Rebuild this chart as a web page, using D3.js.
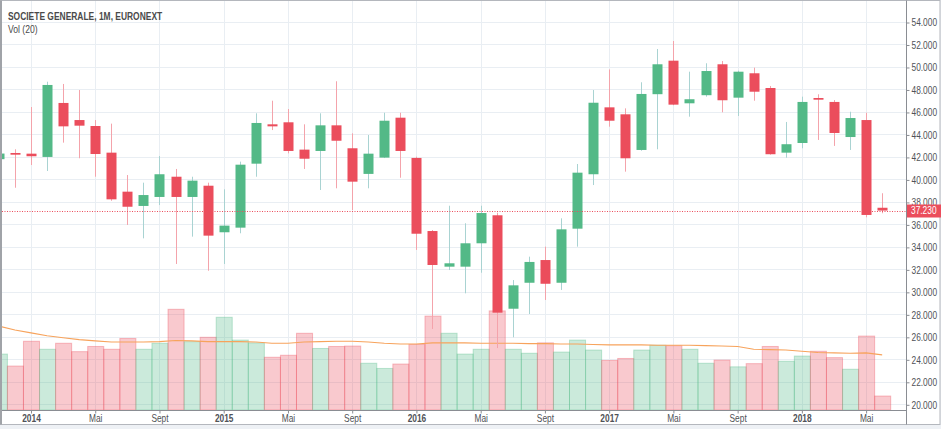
<!DOCTYPE html>
<html><head><meta charset="utf-8">
<script src="https://cdn.jsdelivr.net/npm/d3@7"></script>
<style>
body{margin:0;background:#fff;}
svg{display:block;}
text{font-family:"Liberation Sans",Arial,sans-serif;}
</style></head><body>
<svg id="c" width="941" height="429"></svg>
<script>
const months = ["2013-11","2013-12",
  "2014-01","2014-02","2014-03","2014-04","2014-05","2014-06","2014-07","2014-08","2014-09","2014-10","2014-11","2014-12",
  "2015-01","2015-02","2015-03","2015-04","2015-05","2015-06","2015-07","2015-08","2015-09","2015-10","2015-11","2015-12",
  "2016-01","2016-02","2016-03","2016-04","2016-05","2016-06","2016-07","2016-08","2016-09","2016-10","2016-11","2016-12",
  "2017-01","2017-02","2017-03","2017-04","2017-05","2017-06","2017-07","2017-08","2017-09","2017-10","2017-11","2017-12",
  "2018-01","2018-02","2018-03","2018-04","2018-05","2018-06"];
const open  = [41.80,42.35, 42.29,42.00,46.80,45.28,44.75,42.38,38.91,37.64,38.44,40.24,38.44,39.44,
  35.30,35.71,41.40,44.90,45.08,42.65,42.53,44.81,42.77,40.49,41.94,45.49,
  41.91,35.41,32.24,32.24,34.32,36.81,28.50,30.81,32.83,30.81,35.62,40.46,
  46.41,45.79,42.62,47.58,50.56,46.77,47.49,50.24,47.27,49.44,48.13,42.38,
  43.24,47.24,46.89,43.77,45.28,37.48];
const high  = [42.60,42.68, 46.44,48.69,48.49,47.95,45.28,44.96,40.39,39.71,42.08,40.93,40.24,39.71,
  39.12,41.58,45.88,47.00,46.26,44.90,45.88,48.73,44.10,43.95,45.93,45.93,
  42.02,35.50,37.66,36.10,37.66,37.04,31.05,33.13,34.02,36.54,41.37,47.95,
  49.78,46.32,48.64,51.60,52.31,49.58,50.33,50.53,49.67,49.94,48.31,45.11,
  47.36,47.57,47.06,46.02,45.93,38.77];
const low   = [40.80,39.26, 41.28,40.75,43.27,41.88,40.24,38.10,35.95,34.76,37.72,32.48,34.91,31.88,
  32.48,35.21,40.24,44.39,42.32,40.93,39.06,39.21,37.28,39.21,41.90,40.15,
  33.73,26.70,31.94,29.87,31.70,25.00,25.96,28.03,29.28,30.17,34.02,39.50,
  44.69,40.69,42.55,42.68,46.60,45.58,47.36,45.97,45.64,47.00,42.20,41.93,
  42.77,43.51,42.98,42.62,36.63,36.99];
const close = [42.30,42.20, 42.06,48.40,44.72,44.78,42.26,38.23,37.57,38.61,40.46,38.44,39.89,35.00,
  35.89,41.31,45.02,44.72,42.53,41.84,44.81,43.44,39.80,42.29,45.22,42.53,
  35.17,32.39,32.54,34.32,37.01,28.15,30.58,32.66,30.72,35.56,40.60,46.82,
  45.22,41.88,47.60,50.24,46.65,47.13,49.64,47.04,49.58,47.80,42.24,43.13,
  46.89,47.09,44.13,45.46,36.84,37.23];
// monthly volume, millions of shares (estimated)
const volume = [140,110, 172,152,167,146,159,152,179,152,167,252,171,182,
  232,175,168,132,137,192,154,159,160,117,104,115,
  164,235,192,140,152,248,152,142,168,145,175,150,
  124,129,150,162,161,152,117,125,108,116,159,122,
  135,147,131,102,185,35];
const volumeMA = [210,200, 193,186,181,176,173,170,170,170,171,174,173,171,
  171,171,170,167,167,170,171,172,172,170,167,165,
  165,168,168,168,167,167,167,166,166,165,165,164,
  163,163,163,162,162,162,161,160,159,152,151,150,
  147,144,143,142,143,138];
const priceTicks = [20,22,24,26,28,30,32,34,36,38,40,42,44,46,48,50,52,54];
const timeTickMonths = ["2014-01","2014-05","2014-09","2015-01","2015-05","2015-09","2016-01","2016-05","2016-09","2017-01","2017-05","2017-09","2018-01","2018-05"];
const timeTickLabels = ["2014","Mai","Sept","2015","Mai","Sept","2016","Mai","Sept","2017","Mai","Sept","2018","Mai"];
const lastPrice = 37.23;
const titleText = "SOCIETE GENERALE, 1M, EURONEXT";
const volText = "Vol (20)";

const W = 941, H = 429;
const P = {l: 2, r: 906, t: 1, b: 410};
const UP = "#53b987", DOWN = "#eb4d5c";
const UPWICK = "#a9d3d2", DOWNWICK = "#f4a3ab";
const SX = 0.82; // horizontal squeeze of the text glyphs

const svg = d3.select("#c");
svg.append("rect").attr("width", W).attr("height", H).attr("fill", "#eef1f5");
svg.append("rect").attr("x", 0.5).attr("y", 0.5).attr("width", 939.5).attr("height", 424)
  .attr("fill", "#fff").attr("stroke", "#b4b7bd");

const x = d3.scaleBand().domain(months).range([-9.15, 890.2]).padding(0);
const cx = m => x(m) + x.bandwidth() / 2;
const y = d3.scaleLinear().domain([20, 54]).range([404.3, 22]);
const yv = d3.scaleLinear().domain([0, d3.max(volume)]).range([P.b, 309.3]);

svg.append("defs").append("clipPath").attr("id", "clip")
  .append("rect").attr("x", P.l).attr("y", P.t).attr("width", P.r - P.l).attr("height", P.b - P.t);

// grid
const grid = svg.append("g").attr("clip-path", "url(#clip)");
grid.selectAll("line.h").data(priceTicks).join("line")
  .attr("x1", P.l).attr("x2", P.r)
  .attr("y1", d => Math.round(y(d)) + 0.5).attr("y2", d => Math.round(y(d)) + 0.5)
  .attr("stroke", "#e9eef3");
grid.selectAll("line.v").data(timeTickMonths).join("line")
  .attr("x1", d => Math.round(cx(d)) + 0.5).attr("x2", d => Math.round(cx(d)) + 0.5)
  .attr("y1", P.t).attr("y2", P.b)
  .attr("stroke", "#e9eef3");

const g = svg.append("g").attr("clip-path", "url(#clip)");
const isUp = i => close[i] >= open[i];

// volume
g.selectAll("rect.vol").data(months).join("rect")
  .attr("x", d => x(d) + 0.5).attr("width", x.bandwidth())
  .attr("y", (d, i) => yv(volume[i])).attr("height", (d, i) => P.b - yv(volume[i]))
  .attr("fill", (d, i) => isUp(i) ? UP : DOWN).attr("fill-opacity", 0.3)
  .attr("stroke", (d, i) => isUp(i) ? UP : DOWN).attr("stroke-opacity", 0.35);

// volume MA
g.append("path").datum(months)
  .attr("d", d3.line().x(d => cx(d)).y((d, i) => yv(volumeMA[i])))
  .attr("fill", "none").attr("stroke", "#f7a35c").attr("stroke-width", 1.1);

// wicks
g.selectAll("line.wick").data(months).join("line")
  .attr("x1", d => Math.round(cx(d)) + 0.5).attr("x2", d => Math.round(cx(d)) + 0.5)
  .attr("y1", (d, i) => y(high[i])).attr("y2", (d, i) => y(low[i]))
  .attr("stroke", (d, i) => isUp(i) ? UPWICK : DOWNWICK).attr("stroke-width", 1);

// bodies
g.selectAll("rect.body").data(months).join("rect")
  .attr("x", d => Math.round(cx(d)) - 4.5).attr("width", 10)
  .attr("y", (d, i) => y(Math.max(open[i], close[i])))
  .attr("height", (d, i) => Math.max(1.5, Math.abs(y(open[i]) - y(close[i]))))
  .attr("fill", (d, i) => isUp(i) ? UP : DOWN);

// last price line
g.append("line").attr("x1", P.l).attr("x2", P.r)
  .attr("y1", Math.round(y(lastPrice)) + 0.5).attr("y2", Math.round(y(lastPrice)) + 0.5)
  .attr("stroke", DOWN).attr("stroke-dasharray", "1 1.5");

// borders of plot
svg.append("line").attr("x1", P.r + 0.5).attr("x2", P.r + 0.5).attr("y1", 0.5).attr("y2", 424.5).attr("stroke", "#8a8d93");
svg.append("line").attr("x1", 0.5).attr("x2", P.r + 0.5).attr("y1", P.b + 0.5).attr("y2", P.b + 0.5).attr("stroke", "#8a8d93");
svg.append("line").attr("x1", 1).attr("x2", 1).attr("y1", 0.5).attr("y2", 424.5).attr("stroke", "#a0a3a8").attr("stroke-width", 2);

// price axis
const ya = svg.append("g").attr("transform", `translate(${P.r + 0.5},0.5)`)
  .call(d3.axisRight(y).tickValues(priceTicks).tickSize(3).tickPadding(2).tickFormat(d3.format(".3f")));
ya.select(".domain").remove();
ya.selectAll(".tick line").attr("stroke", "#8a8d93");
ya.selectAll(".tick text").attr("fill", "#4f5257").attr("font-size", 10.2)
  .style("font-family", '"Liberation Sans",Arial,sans-serif')
  .attr("x", 5 / SX).attr("transform", `scale(${SX},1)`);

// last price label
const ly = y(lastPrice);
svg.append("rect").attr("x", P.r + 1).attr("y", Math.round(ly) - 6.5).attr("width", 34).attr("height", 13).attr("fill", DOWN);
svg.append("text").attr("x", (P.r + 5) / SX).attr("y", ly).attr("dy", "0.35em")
  .attr("transform", `scale(${SX},1)`)
  .attr("fill", "#fff").attr("font-size", 10.2).text(d3.format(".3f")(lastPrice));

// time axis
const xa = svg.append("g").attr("transform", `translate(0.5,${P.b + 0.5})`)
  .call(d3.axisBottom(x).tickValues(timeTickMonths).tickSize(3)
    .tickFormat(d => timeTickLabels[timeTickMonths.indexOf(d)]));
xa.select(".domain").remove();
xa.selectAll(".tick line").attr("stroke", "#8a8d93");
xa.selectAll(".tick text").attr("y", 4).attr("fill", "#4f5257").attr("font-size", 10.2)
  .attr("transform", `scale(${SX},1)`)
  .attr("font-weight", d => d.endsWith("-01") ? "bold" : "normal")
  .style("font-family", '"Liberation Sans",Arial,sans-serif');

// titles
svg.append("text").attr("x", 8 / SX).attr("y", 20).attr("font-size", 10.3).attr("font-weight", "bold")
  .attr("transform", `scale(${SX},1)`)
  .attr("fill", "#4a4a4a").text(titleText);
svg.append("text").attr("x", 8 / SX).attr("y", 33).attr("font-size", 10.5)
  .attr("transform", `scale(${SX},1)`)
  .attr("fill", "#4a4a4a").text(volText);
</script>
</body></html>
